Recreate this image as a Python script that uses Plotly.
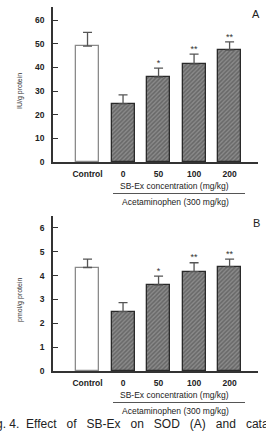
import plotly.graph_objects as go

groups = ["Control", "0", "50", "100", "200"]
sod_mean = [49.0, 24.6, 35.9, 41.4, 47.3]
sod_err = [5.8, 3.8, 3.8, 4.2, 3.5]
sod_sig = ["", "", "*", "**", "**"]
cat_mean = [4.34, 2.49, 3.60, 4.17, 4.37]
cat_err = [0.35, 0.38, 0.38, 0.37, 0.32]
cat_sig = ["", "", "*", "**", "**"]
sod_ticks = [0, 10, 20, 30, 40, 50, 60]
cat_ticks = [0, 1, 2, 3, 4, 5, 6]

W, H = 266, 431
FONT = "Liberation Sans, Arial, sans-serif"
AX = "#333333"

def py(pix):
    return 1 - pix / H

def px(pix):
    return pix / W

fig = go.Figure()
xs = list(range(len(groups)))
fills = ["white"] + ["#8a8a8a"] * 4
pattern_shapes = [""] + ["/"] * 4
line_cols = ["#8a8a8a"] + ["#2a2a2a"] * 4

for i, (mean, err, sig, xa, ya) in enumerate([
    (sod_mean, sod_err, sod_sig, "x", "y"),
    (cat_mean, cat_err, cat_sig, "x2", "y2"),
]):
    fig.add_trace(go.Bar(
        x=xs, y=mean, width=0.65, xaxis=xa, yaxis=ya,
        marker=dict(color=fills, line=dict(color=line_cols, width=1.3),
                    pattern=dict(shape=pattern_shapes, fgcolor="#222222",
                                 bgcolor="#aaaaaa", size=3, solidity=0.5)),
        error_y=dict(type="data", symmetric=False, array=err,
                     arrayminus=[0] * len(err), color="#555555",
                     thickness=1.3, width=4.5),
        showlegend=False,
    ))
    fig.add_trace(go.Scatter(
        x=xs, y=[m + e for m, e in zip(mean, err)], xaxis=xa, yaxis=ya,
        mode="text", text=sig, textposition="top center",
        textfont=dict(family=FONT, size=9, color="#333"),
        showlegend=False, cliponaxis=False,
    ))

xrange = [-0.972, 4.80]
xdom = [px(53), px(258)]
common_x = dict(range=xrange, domain=xdom, tickvals=xs,
                ticktext=["<b>%s</b>" % g for g in groups],
                showline=True, linecolor=AX, linewidth=1.5, ticks="",
                showgrid=False, zeroline=False, ticklabelstandoff=3,
                tickfont=dict(family=FONT, size=8.5, color="#222"))
common_y = dict(showline=True, linecolor=AX, linewidth=1.5, ticks="inside",
                ticklen=5, tickcolor=AX, tickwidth=1, showgrid=False,
                zeroline=False, ticklabelstandoff=5,
                tickfont=dict(family=FONT, size=8.5, color="#222"))

fig.update_layout(
    width=W, height=H, margin=dict(l=0, r=0, t=0, b=0, autoexpand=False),
    paper_bgcolor="white", plot_bgcolor="white",
    xaxis=dict(anchor="y", **common_x),
    yaxis=dict(anchor="x", domain=[py(162), py(7)], range=[0, 65.5],
               tickvals=sod_ticks, ticktext=["<b>%d</b>" % t for t in sod_ticks],
               **common_y),
    xaxis2=dict(anchor="y2", **common_x),
    yaxis2=dict(anchor="x2", domain=[py(371), py(216)], range=[0, 6.5],
                tickvals=cat_ticks, ticktext=["<b>%d</b>" % t for t in cat_ticks],
                **common_y),
    bargap=0,
)

ann = []
shapes = []
C = dict(xanchor="center", yanchor="middle", showarrow=False)
for yd, lab, ytitle in [("y domain", "A", "IU/g protein"),
                        ("y2 domain", "B", "pmol/g protein")]:
    ann.append(dict(x=px(256), y=1, xref="paper", yref=yd, yshift=-7,
                    text=lab, font=dict(family=FONT, size=11, color="#222"), **C))
    ann.append(dict(x=px(19.5), y=0.5, xref="paper", yref=yd, yshift=-7, text=ytitle,
                    textangle=-90, font=dict(family=FONT, size=7, color="#333"), **C))
    ann.append(dict(x=px(174), y=0, xref="paper", yref=yd, yshift=-23.5,
                    text="SB-Ex concentration (mg/kg)",
                    font=dict(family=FONT, size=8.5, color="#222"), **C))
    ann.append(dict(x=px(175), y=0, xref="paper", yref=yd, yshift=-39.5,
                    text="Acetaminophen (300 mg/kg)",
                    font=dict(family=FONT, size=8.5, color="#222"), **C))
    shapes.append(dict(type="line", xref="paper", yref=yd, ysizemode="pixel", yanchor=0,
                       x0=px(113), x1=px(245), y0=-31.5, y1=-31.5,
                       line=dict(color="#555", width=1)))

ann.append(dict(x=px(-16), y=py(424), xref="paper", yref="paper", xanchor="left",
                yanchor="middle", showarrow=False,
                text="Fig. 4.  Effect   of   SB-Ex   on   SOD   (A)   and   catalase   activity",
                font=dict(family=FONT, size=12, color="#222")))

fig.update_layout(annotations=ann, shapes=shapes)
fig.write_html("out.html")
